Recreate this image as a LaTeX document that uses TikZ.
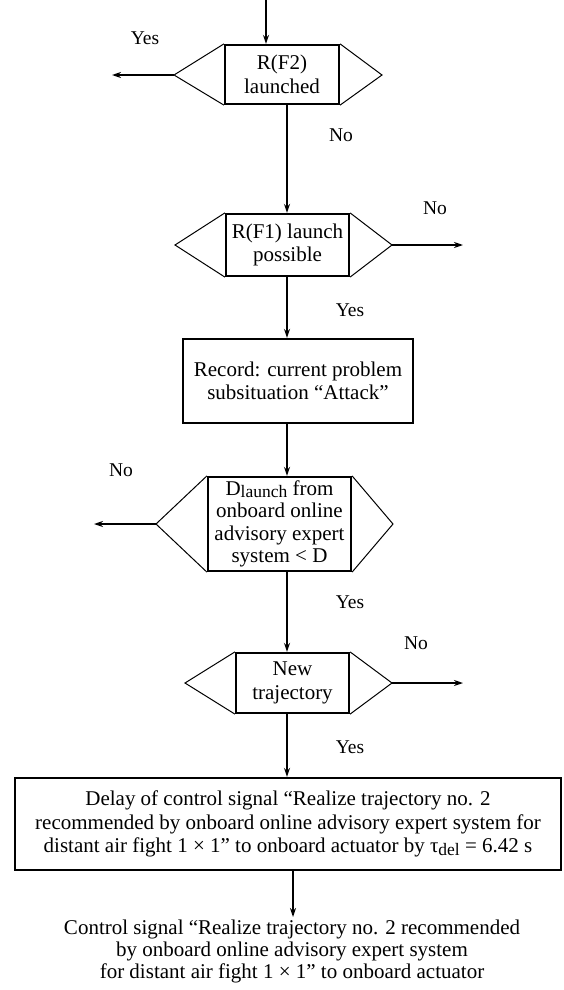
\documentclass[tikz,border=0pt]{standalone}
\usepackage{fontspec}
\setmainfont{Liberation Serif}
\usetikzlibrary{arrows.meta}
\newcommand\flowfont{\fontsize{21}{23.5}\selectfont}
\newcommand\tightfont{\fontsize{21}{22.5}\selectfont}
\newcommand\labfont{\fontsize{19.5}{23}\selectfont}
\newcommand\lowsub[1]{\raisebox{-0.25ex}{\fontsize{17.5}{17.5}\selectfont #1}}
\begin{document}
\begin{tikzpicture}[x=1pt,y=-1pt,
  box/.style={draw,line width=2.2pt,align=center,inner sep=0pt,font=\flowfont},
  wing/.style={line width=1pt,line join=miter},
  arr/.style={line width=1.6pt,-{Stealth[length=9pt,width=6pt]}},
  lab/.style={font=\labfont,inner sep=0pt}]
\useasboundingbox (0,0) rectangle (564,990);

% main vertical axes
\coordinate (ax) at (287,0);
\coordinate (ax2) at (293,0);

% decision 1
\node[box,minimum width=114pt,minimum height=59pt] (b1) at (282,74.5) {R(F2)\\launched};
\coordinate (t1l) at (174,75);
\coordinate (t1r) at (382,75);
\draw[wing] (b1.north west) -- (t1l) -- (b1.south west);
\draw[wing] (b1.north east) -- (t1r) -- (b1.south east);
\coordinate (in) at (266,0);
\coordinate (e1) at (112,75);

% decision 2
\node[box,minimum width=123pt,minimum height=62pt] (b2) at (287.5,245) {R(F1) launch\\possible};
\coordinate (t2l) at (175,245);
\coordinate (t2r) at (392,245);
\draw[wing] (b2.north west) -- (t2l) -- (b2.south west);
\draw[wing] (b2.north east) -- (t2r) -- (b2.south east);
\coordinate (e2) at (463,245);

% record box
\node[box,minimum width=230pt,minimum height=84pt] (rec) at (298,381) {Record: current problem\\subsituation “Attack”};

% decision 3
\node[box,font=\tightfont,minimum width=143pt,minimum height=94pt] (b4) at (279.5,524)
  {D\lowsub{launch} from\\onboard online\\advisory expert\\system < D};
\coordinate (t4l) at (156,524);
\coordinate (t4r) at (393,524);
\draw[wing] (b4.north west) -- (t4l) -- (b4.south west);
\draw[wing] (b4.north east) -- (t4r) -- (b4.south east);
\coordinate (e4) at (94,524);

% decision 4
\node[box,minimum width=113pt,minimum height=60pt] (b5) at (292.5,683) {New\\trajectory};
\coordinate (t5l) at (185,683);
\coordinate (t5r) at (392,683);
\draw[wing] (b5.north west) -- (t5l) -- (b5.south west);
\draw[wing] (b5.north east) -- (t5r) -- (b5.south east);
\coordinate (e5) at (463,683);

% delay box
\node[box,minimum width=546pt,minimum height=92pt] (dl) at (288,824)
  {Delay of control signal “Realize trajectory no. 2\\
   recommended by onboard online advisory expert system for\\
   distant air fight 1 × 1” to onboard actuator by τ\lowsub{del} = 6.42 s};

% output signal
\node[lab,font=\fontsize{21}{22}\selectfont,align=center,anchor=north] (out) at (292,920)
  {Control signal “Realize trajectory no. 2 recommended\\
   by onboard online advisory expert system\\
   for distant air fight 1 × 1” to onboard actuator};

% connectors
\draw[arr] (in) -- (in |- b1.north);
\draw[arr] (t1l) -- (e1);
\draw[arr] (b1.south -| ax) -- (b2.north -| ax);
\draw[arr] (t2r) -- (e2);
\draw[arr] (b2.south -| ax) -- (rec.north -| ax);
\draw[arr] (rec.south -| ax) -- (b4.north -| ax);
\draw[arr] (t4l) -- (e4);
\draw[arr] (b4.south -| ax) -- (b5.north -| ax);
\draw[arr] (t5r) -- (e5);
\draw[arr] (b5.south -| ax) -- (dl.north -| ax);
\draw[arr,shorten >=3pt] (dl.south -| ax2) -- (out.north -| ax2);

% branch labels
\node[lab] (y1) at (145,38) {Yes};
\node[lab] (n1) at (341,135) {No};
\node[lab] (n2) at (435,208) {No};
\node[lab] (y2) at (350,310) {Yes};
\node[lab] (n3) at (121,470) {No};
\node[lab] (y3) at (350,602) {Yes};
\node[lab] (n4) at (416,643) {No};
\node[lab] (y4) at (350,747) {Yes};
\end{tikzpicture}
\end{document}
